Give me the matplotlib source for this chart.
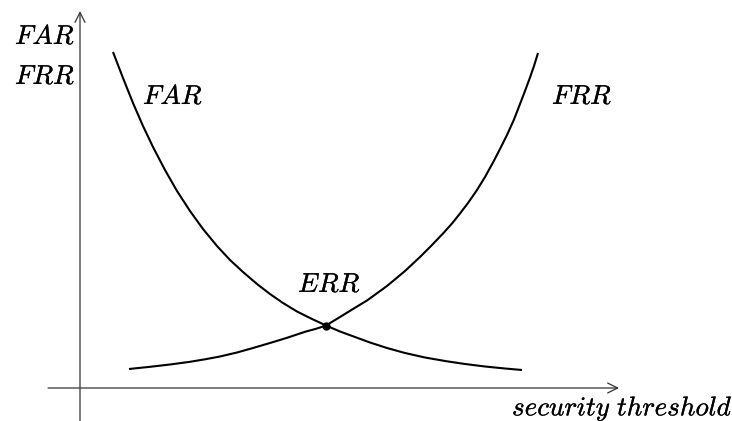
import numpy as np
import matplotlib.pyplot as plt
import matplotlib.patheffects as pe

plt.rcParams['mathtext.fontset'] = 'cm'

# curves, in pixel coordinates (y grows downwards)
far_x = [113, 123, 133, 143, 153, 165, 177, 190, 203, 217, 230, 243, 257, 270,
         283, 297, 311, 326, 340, 355, 370, 387, 405, 425, 445, 465, 485, 505, 522]
far_y = [52, 78, 103, 126, 147, 170, 191, 211, 229, 246, 260, 272, 284, 294,
         303, 311.5, 318.5, 325.5, 331.5, 337, 342.5, 348, 353, 357.5, 361, 364,
         366.5, 368.5, 370]

frr_x = [129, 150, 170, 190, 205, 220, 237, 253, 270, 287, 305, 316, 326, 340,
         353, 367, 387, 405, 420, 432, 443, 452, 460, 468, 477, 485, 493, 500,
         507, 514, 520, 525, 530, 534, 538]
frr_y = [369, 366.8, 364.5, 361.8, 359.3, 356.5, 352.5, 348, 343, 337.8, 331.8,
         328.8, 325.5, 317, 309, 300.5, 286, 271, 257, 245, 233.5, 223.5, 213.5,
         203, 190, 177, 162.5, 149, 135, 119.5, 104, 91, 77.5, 66, 53]

err_point = (326, 325.5)

# axes (pixel coords)
origin_x = 80
origin_y = 388

fig = plt.figure(figsize=(7.32, 4.21), dpi=100)
ax = fig.add_axes([0, 0, 1, 1])
ax.set_xlim(0, 732)
ax.set_ylim(421, 0)
ax.axis('off')

# coordinate axes with open arrowheads
ax.annotate('', xy=(619, origin_y), xytext=(48, origin_y),
            arrowprops=dict(arrowstyle='->', lw=0.9, color='#333333',
                            mutation_scale=18, shrinkA=0, shrinkB=0))
ax.annotate('', xy=(origin_x, 11), xytext=(origin_x, 421),
            arrowprops=dict(arrowstyle='->', lw=0.9, color='#333333',
                            mutation_scale=18, shrinkA=0, shrinkB=0))

ax.plot(far_x, far_y, color='black', lw=1.5, solid_capstyle='butt',
        solid_joinstyle='round')
ax.plot(frr_x, frr_y, color='black', lw=1.5, solid_capstyle='butt',
        solid_joinstyle='round')
ax.plot(*err_point, 'o', color='black', ms=5)

fs = 19.5
bold = [pe.withStroke(linewidth=0.2, foreground='black')]
labels = [
    (15, 37, r'$FAR$'),
    (15, 77, r'$FRR$'),
    (143, 97, r'$FAR$'),
    (552, 97, r'$FRR$'),
    (298, 285, r'$ERR$'),
    (512, 408, r'$security\ threshold$'),
]
for x, y, s in labels:
    ax.text(x, y, s, fontsize=fs, ha='left', va='center', path_effects=bold)

fig.savefig('out.png', dpi=100)
